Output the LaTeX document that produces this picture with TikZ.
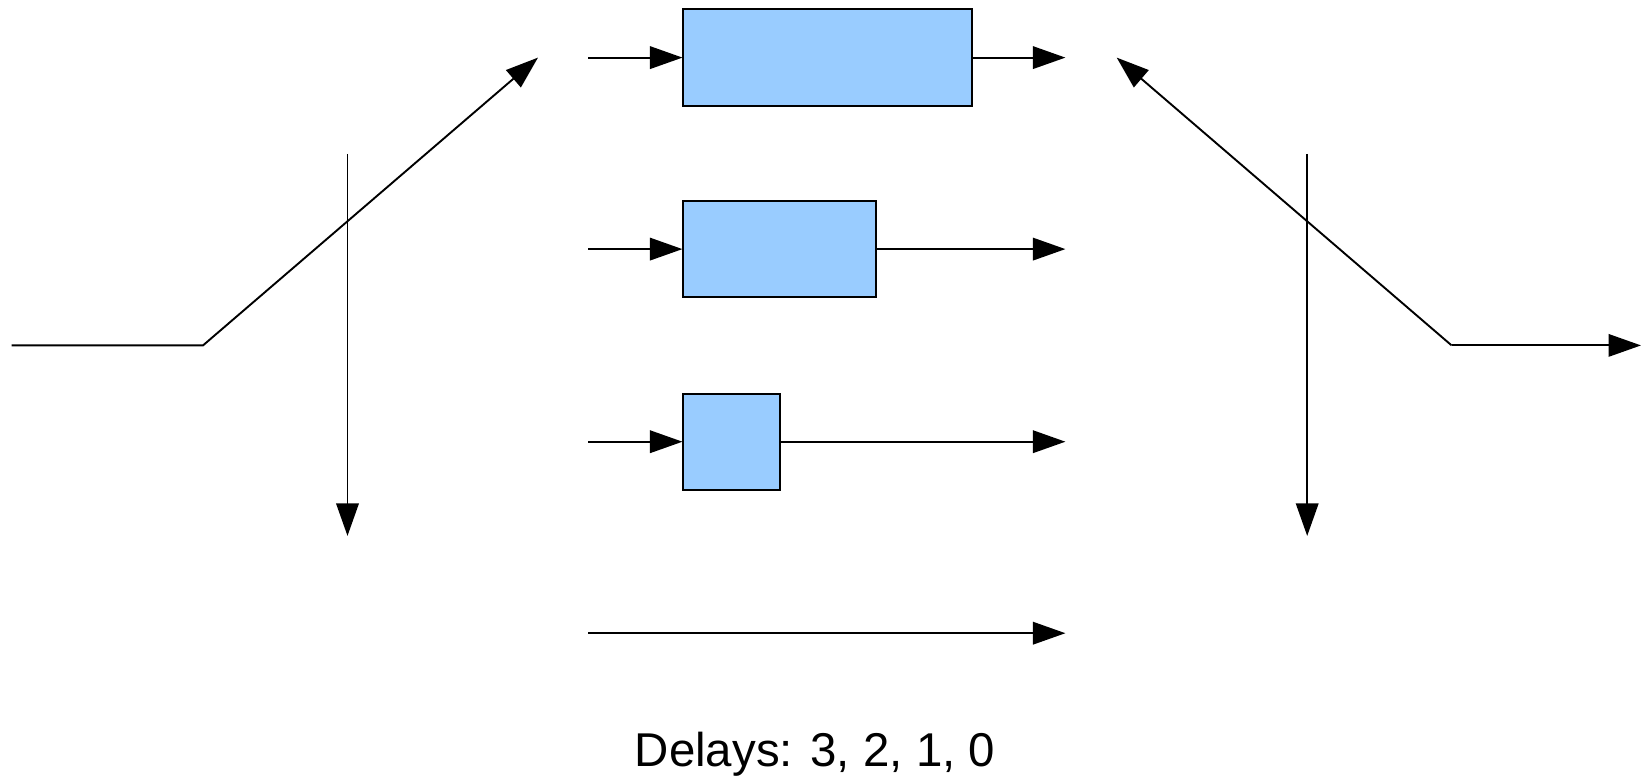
\documentclass[tikz,border=0pt]{standalone}
\usepackage{fontspec}
\setmainfont{Liberation Sans}
\usetikzlibrary{arrows.meta}
\definecolor{boxblue}{HTML}{99CCFF}
\tikzset{
  wire/.style={line width=0.038cm, draw=black},
  arr/.style={wire, -{Triangle[length=0.65cm, width=0.45cm]}},
  delaybox/.style={draw=black, line width=0.04cm, fill=boxblue, rectangle,
                   inner sep=0pt, minimum height=1.926cm},
}
\begin{document}
\begin{tikzpicture}[x=0.02cm, y=-0.02cm]
  \useasboundingbox (0,0) rectangle (1641,778);

  % delay elements
  \node[delaybox, minimum width=5.778cm] (d3) at (827.9,57.6) {};
  \node[delaybox, minimum width=3.852cm] (d2) at (779.7,249.1) {};
  \node[delaybox, minimum width=1.926cm] (d1) at (731.6,441.7) {};

  % line inputs and outputs
  \coordinate (i3) at (588.2,57.6);
  \coordinate (i2) at (588.2,249.1);
  \coordinate (i1) at (588.2,441.7);
  \coordinate (i0) at (588.2,633.2);
  \coordinate (o3) at (1065.4,57.6);
  \coordinate (o2) at (1065.4,249.1);
  \coordinate (o1) at (1065.4,441.7);
  \coordinate (o0) at (1065.4,633.2);

  \draw[arr] (i3) -- (d3.west);
  \draw[arr] (i2) -- (d2.west);
  \draw[arr] (i1) -- (d1.west);
  \draw[arr] (d3.east) -- (o3);
  \draw[arr] (d2.east) -- (o2);
  \draw[arr] (d1.east) -- (o1);
  \draw[arr] (i0) -- (o0);

  % switch at the input
  \coordinate (inL) at (11.5,345.4);
  \coordinate (pivL) at (203,345.4);
  \coordinate (tipL) at (538,57.6);
  \draw[arr] (inL) -- (pivL) -- (tipL);
  \coordinate (vLtop) at (347.5,153.9);
  \coordinate (vLbot) at (347.5,535.9);
  \draw[arr] (vLtop) -- (vLbot);

  % switch at the output
  \coordinate (tipR) at (1116.7,57.6);
  \coordinate (pivR) at (1451.6,345.4);
  \coordinate (outR) at (1641,345.4);
  \draw[arr] (pivR) -- (tipR);
  \draw[arr] (pivR) -- (outR);
  \coordinate (vRtop) at (1307.2,153.9);
  \coordinate (vRbot) at (1307.2,535.9);
  \draw[arr] (vRtop) -- (vRbot);

  % caption
  \node[anchor=base, inner sep=0pt, font=\fontsize{27}{32}\selectfont]
    (cap) at (815,766) {Delays: 3, 2, 1, 0};
\end{tikzpicture}
\end{document}
